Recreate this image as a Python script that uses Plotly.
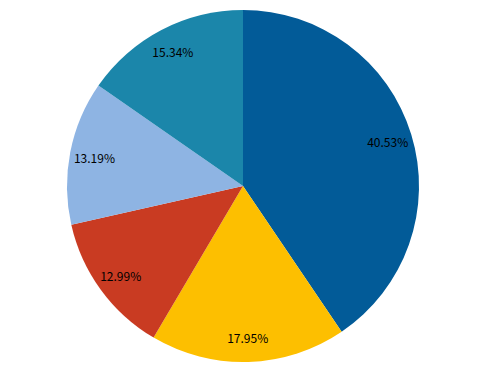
import plotly.graph_objects as go

labels = ["A", "B", "C", "D", "E"]
values = [40.53, 17.95, 12.99, 13.19, 15.34]
colors = ["#025B98", "#FDBF00", "#C93B22", "#8EB4E3", "#1B86AA"]

fig = go.Figure()
# filled pie (no text)
fig.add_trace(go.Pie(
    labels=labels,
    values=values,
    sort=False,
    direction="clockwise",
    rotation=0,
    marker=dict(colors=colors, line=dict(width=0)),
    textinfo="none",
    hoverinfo="label+percent",
))
# transparent ring carrying the labels near the rim
fig.add_trace(go.Pie(
    labels=labels,
    values=values,
    sort=False,
    direction="clockwise",
    rotation=0,
    hole=0.72,
    marker=dict(colors=["rgba(0,0,0,0)"] * len(values), line=dict(width=0)),
    texttemplate="%{value:.2f}%",
    textposition="inside",
    insidetextorientation="horizontal",
    textfont=dict(family="Noto Sans CJK SC, SimSun, sans-serif", size=12, color="black"),
    hoverinfo="skip",
))
fig.update_layout(
    width=491, height=372,
    margin=dict(l=0, r=21, t=2, b=18),
    showlegend=False,
    paper_bgcolor="white",
    plot_bgcolor="white",
    uniformtext=dict(minsize=12, mode="show"),
)
fig.write_html("out.html")
